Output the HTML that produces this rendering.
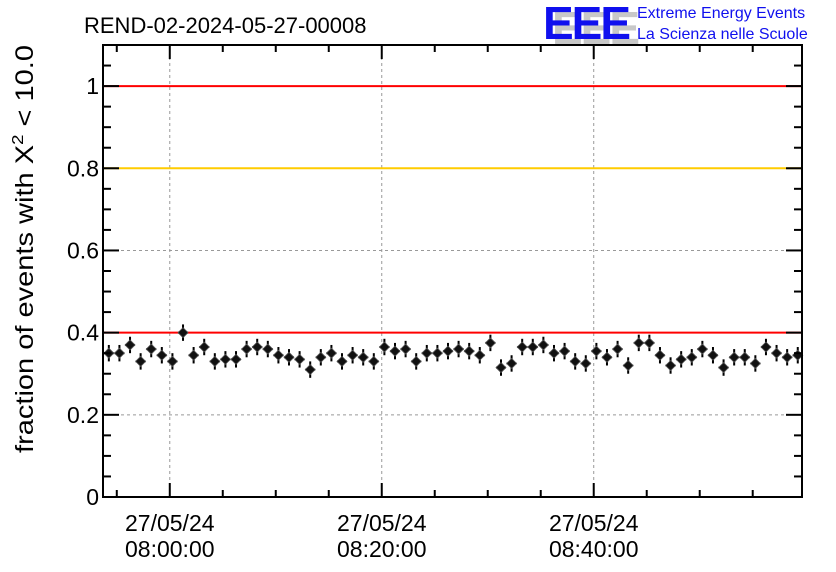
<!DOCTYPE html>
<html><head><meta charset="utf-8"><style>
html,body{margin:0;padding:0;background:#fff;}
svg{display:block;font-family:"Liberation Sans",sans-serif;}
</style></head><body>
<svg id="chart" width="836" height="572" viewBox="0 0 836 572" xmlns="http://www.w3.org/2000/svg">
<text x="84" y="33" font-size="22">REND-02-2024-05-27-00008</text>
<g>
<text x="552" y="44" font-size="46" font-weight="bold" fill="#c8c8c8" letter-spacing="-2">EEE</text>
<text x="543" y="39" font-size="46" font-weight="bold" fill="#1010ee" letter-spacing="-2">EEE</text>
<text x="637" y="18" font-size="16" fill="#1010ee">Extreme Energy Events</text>
<text x="637" y="39" font-size="16" fill="#1010ee">La Scienza nelle Scuole</text>
</g>
<g id="grid"></g>
<g id="reflines"></g>
<g id="points"></g>
<rect x="103" y="45" width="699" height="452" fill="none" stroke="#000" stroke-width="2"/>
<g id="axes"></g>
<text transform="translate(33,453) rotate(-90)" font-size="25" textLength="408" lengthAdjust="spacingAndGlyphs">fraction of events with X<tspan font-size="16" dy="-10">2</tspan><tspan dy="10"> &lt; 10.0</tspan></text>
</svg>
<script>
const values=[0.35,0.35,0.37,0.33,0.36,0.345,0.33,0.40,0.345,0.365,
0.33,0.335,0.335,0.36,0.365,0.36,0.345,0.34,0.335,0.31,
0.34,0.35,0.33,0.345,0.34,0.33,0.365,0.355,0.36,0.33,
0.35,0.35,0.355,0.36,0.355,0.345,0.375,0.315,0.325,0.365,
0.365,0.37,0.35,0.355,0.33,0.325,0.355,0.34,0.36,0.32,
0.375,0.375,0.345,0.32,0.335,0.34,0.36,0.345,0.315,0.34,
0.34,0.325,0.365,0.35,0.34,0.345];
const firstMinute=-5.75; // minutes relative to 08:00:00
const yTicks=[0,0.2,0.4,0.6,0.8,1];
const yTickLabels=["0","0.2","0.4","0.6","0.8","1"];
const xTicks=[0,20,40];
const xTickLabels=["08:00:00","08:20:00","08:40:00"];
const dateLabel="27/05/24";
const refLines=[1,0.8,0.4];
const refColors=["#ff0000","#ffcc00","#ff0000"];
const errY=0.02;

const X0=103,X1=802,Y0=497,Y1=45;
const xMin=-6.3,xMax=59.65,yMin=0,yMax=1.1;
const sx=m=>X0+(m-xMin)/(xMax-xMin)*(X1-X0);
const sy=v=>Y0-(v-yMin)/(yMax-yMin)*(Y0-Y1);
const NS="http://www.w3.org/2000/svg";
function mk(t,a,p){const e=document.createElementNS(NS,t);for(const k in a)e.setAttribute(k,a[k]);p.appendChild(e);return e;}
const grid=document.getElementById('grid'),axes=document.getElementById('axes'),pts=document.getElementById('points'),rl=document.getElementById('reflines');
xTicks.forEach((t,i)=>{const x=sx(t);
 const g=mk('line',{x1:x,x2:x,y1:Y1,y2:Y0,stroke:'#999','stroke-dasharray':'3,3','stroke-width':1},grid);
 
 
 const l1=mk('text',{x:x,y:531,'font-size':23,'text-anchor':'middle'},axes);l1.textContent=dateLabel;
 
 
 const l2=mk('text',{x:x,y:557,'font-size':23,'text-anchor':'middle'},axes);l2.textContent=xTickLabels[i];
 
 
});
yTicks.forEach((t,i)=>{const y=sy(t);
 if(t>0&&t<1){const g=mk('line',{x1:X0,x2:X1,y1:y,y2:y,stroke:'#999','stroke-dasharray':'3,3','stroke-width':1},grid);
 
 }
 const l=mk('text',{x:X0-4,y:y+8,'font-size':23,'text-anchor':'end'},axes);l.textContent=yTickLabels[i];
 
 
});
for(let v=0;v<=1.1001;v+=0.05){const y=sy(v);const major=Math.abs(v/0.2-Math.round(v/0.2))<1e-6;const L=major?16:8;
 mk('line',{x1:X0,x2:X0+L,y1:y,y2:y,stroke:'#000','stroke-width':2},axes);
 mk('line',{x1:X1,x2:X1-L,y1:y,y2:y,stroke:'#000','stroke-width':2},axes);}
for(let m=-5;m<=55;m+=5){const x=sx(m);const major=m%20===0;const L=major?14:7;
 mk('line',{x1:x,x2:x,y1:Y0,y2:Y0-L,stroke:'#000','stroke-width':2},axes);
 mk('line',{x1:x,x2:x,y1:Y1,y2:Y1+L,stroke:'#000','stroke-width':2},axes);}
refLines.forEach((v,i)=>{const l=mk('line',{x1:X0,x2:X1,y1:sy(v),y2:sy(v),stroke:refColors[i],'stroke-width':2},rl);
 
 });
values.forEach((v,i)=>{const m=firstMinute+i;const x=sx(m),y=sy(v);
 const g=mk('g',{},pts);
 
 
 mk('line',{x1:x,x2:x,y1:sy(v+errY),y2:sy(v-errY),stroke:'#000','stroke-width':2},g);
 mk('line',{x1:x-5,x2:x+5,y1:y,y2:y,stroke:'#000','stroke-width':2},g);
 mk('polygon',{points:`${x},${y-5} ${x+5},${y} ${x},${y+5} ${x-5},${y}`,fill:'#111',stroke:'#555','stroke-width':0.8},g);
});
</script>
</body></html>
